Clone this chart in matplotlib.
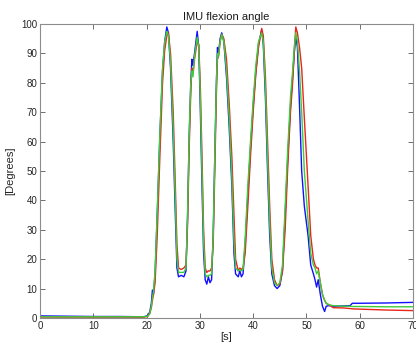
import matplotlib.pyplot as plt

# ===== Data =====
t = [0, 5, 10, 15, 19.5, 20.2, 20.6, 20.9, 21.1, 21.3, 21.6, 22.0, 22.5, 23.0, 23.4, 23.8,
     24.1, 24.5, 25.0, 25.4, 25.7, 26.0, 26.5, 27.0, 27.4, 27.7, 28.0, 28.3, 28.5, 28.7,
     29.0, 29.5, 29.8, 30.1, 30.4, 30.7, 31.0, 31.3, 31.6, 31.9, 32.2, 32.5, 32.8, 33.1,
     33.3, 33.5, 33.8, 34.1, 34.5, 35.0, 35.5, 36.0, 36.4, 36.7, 37.2, 37.5, 37.8, 38.1,
     38.5, 39.0, 39.5, 40.0, 40.5, 41.0, 41.6, 41.9, 42.3, 42.7, 43.1, 43.5, 44.0, 44.5,
     45.0, 45.5, 46.0, 46.5, 47.0, 47.4, 47.7, 48.0, 48.3, 48.7, 49.1, 49.6, 50.3, 50.8,
     51.3, 51.6, 51.9, 52.2, 52.6, 53.0, 53.4, 53.7, 54.2, 55.0, 57.0, 58.2, 58.6, 60.0,
     65.0, 70.0]

blue = [0.7, 0.6, 0.5, 0.5, 0.4, 0.8, 2, 5, 9.5, 8, 15, 35, 62, 84, 94, 99,
        97, 85, 60, 35, 17, 14, 14.5, 14, 16, 35, 62, 80, 88, 86,
        90, 97.5, 92, 70, 45, 22, 13, 11.5, 14, 12, 13, 28, 55, 80,
        92, 90, 95, 97, 94, 82, 65, 45, 22, 15, 14, 16, 14, 15,
        25, 42, 58, 72, 84, 93, 98, 93, 75, 50, 28, 15, 11, 10,
        11, 16, 35, 55, 72, 82, 90, 96, 92, 72, 50, 38, 28, 18,
        15, 13, 10.5, 13, 8, 4, 2.2, 4, 4.2, 4, 4.1, 4.2, 5, 5,
        5.1, 5.3]

red = [0.3, 0.3, 0.3, 0.3, 0.3, 0.5, 1.5, 3.5, 6, 8, 12, 28, 55, 80, 91, 96,
       97, 90, 70, 45, 25, 17, 16.5, 17, 18, 32, 58, 77, 85, 83,
       88, 94, 93, 78, 55, 30, 17, 15.5, 16, 16, 17, 25, 50, 76,
       88, 89, 94, 96.5, 95, 88, 73, 55, 35, 20, 16, 17, 16.5, 17,
       22, 38, 55, 70, 83, 92, 98.5, 96, 82, 60, 38, 20, 13, 11,
       11.5, 16, 30, 52, 70, 80, 90, 99, 97, 92, 85, 68, 45, 28,
       20, 18, 17, 17, 12, 8, 6, 5, 4.5, 3.5, 3.4, 3.2, 3.1, 3.0,
       2.7, 2.5]

green = [0.4, 0.4, 0.4, 0.4, 0.4, 0.6, 1.5, 4, 7, 9, 16, 36, 63, 85, 94, 97.5,
         96, 87, 64, 40, 20, 15.5, 15.5, 15.5, 17, 36, 63, 80, 84, 82,
         89, 95.5, 92, 74, 50, 26, 15, 14, 14.5, 14.5, 15, 28, 55, 80,
         90, 89, 94, 96.5, 94, 84, 68, 48, 26, 17, 16, 16.5, 16, 16.5,
         27, 45, 60, 74, 86, 94, 97, 94, 78, 54, 32, 17, 12, 11,
         12, 18, 38, 58, 75, 84, 92, 97, 94, 84, 70, 50, 33, 22,
         18, 17, 15, 16, 12, 8, 6, 5, 4.5, 4.2, 4.0, 4.0, 3.9, 3.9,
         3.8, 3.8]

assert len(t) == len(blue) == len(red) == len(green)

plt.rcParams['font.family'] = ['Liberation Sans', 'DejaVu Sans']

fig = plt.figure(figsize=(4.16, 3.43), dpi=100)
ax = fig.add_axes([0.096, 0.073, 0.897, 0.857])

ax.plot(t, blue, color="#1010ff", lw=1.0)
ax.plot(t, red, color="#e8261a", lw=1.0)
ax.plot(t, green, color="#3ccc3c", lw=1.0)

ax.set_xlim(0, 70)
ax.set_ylim(0, 100)
ax.set_xticks(range(0, 71, 10))
ax.set_yticks(range(0, 101, 10))

# MATLAB-like axes
for s in ax.spines.values():
    s.set_color("#8c8c8c")
    s.set_linewidth(0.8)
ax.tick_params(direction="in", length=3.5, width=0.7, color="#6e6e6e",
               labelsize=7, labelcolor="#262626", top=True, right=True, pad=2)

ax.set_title("IMU flexion angle", fontsize=8, color="#1a1a1a", pad=3)
ax.set_xlabel("[s]", fontsize=8, color="#262626", labelpad=1)
ax.set_ylabel("[Degrees]", fontsize=8, color="#262626", labelpad=4)

fig.savefig("out.png", dpi=100)
